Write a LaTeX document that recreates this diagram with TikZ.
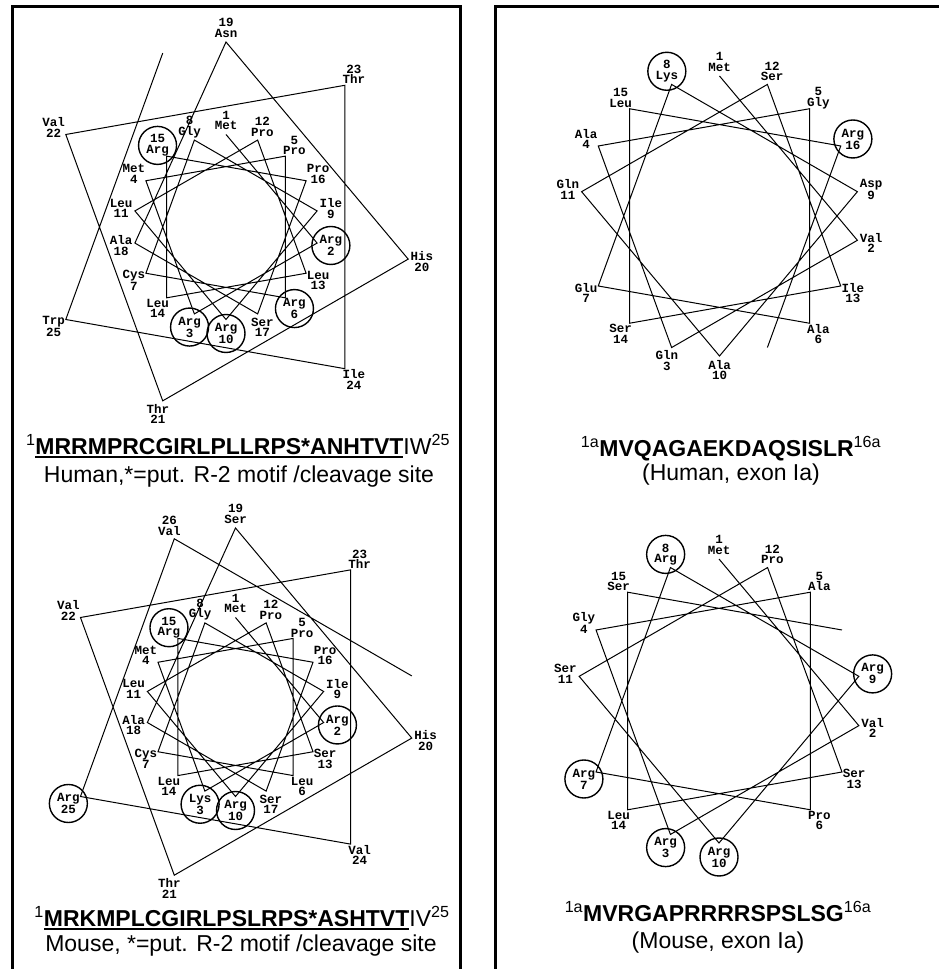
\documentclass[tikz,border=0pt]{standalone}
\usepackage{fontspec}
\setmainfont{Liberation Sans}
\newfontfamily\resfont{Liberation Mono}

\tikzset{
  wheelline/.style={line width=1pt, line join=miter},
  reslabel/.style={font=\resfont\bfseries\fontsize{12.5}{10.5}\selectfont, align=center, inner sep=0pt},
  argring/.style={line width=1.4pt},
  panel/.style={line width=3pt},
  seqline/.style={font=\fontsize{23}{27}\selectfont, anchor=base, inner sep=0pt},
}

% bold text with a heavy underline
\newcommand{\ulbold}[1]{\setbox0\hbox{\bfseries #1}\rlap{\rule[-3pt]{\wd0}{1.8pt}}\box0}

% #1 prefix, #2 centre, #3 inner radius, #4 last point of the trace,
% #5 residues (number/name), #6 circled residues
\newcommand{\drawwheel}[6]{%
  \coordinate (#1c) at (#2);
  \foreach \k in {1,...,#4}{
    \pgfmathsetmacro\wang{90-(\k-1)*100}
    \pgfmathsetmacro\wrad{\k<19 ? #3 : 2*#3}
    \path (#1c) ++(\wang:\wrad) coordinate (#1\k);
  }
  \draw[wheelline] (#11) \foreach \k in {2,...,#4}{ -- (#1\k)};
  \foreach \k/\res in {#5}{
    \pgfmathtruncatemacro\wa{mod(90-(\k-1)*100+2880,360)}
    \pgfmathsetmacro\wlab{(\k<19 ? #3 : 2*#3)+14}
    \ifnum\wa>40 \ifnum\wa<140 \def\wtxt{\k\\\res}\else\def\wtxt{\res\\\k}\fi
    \else\def\wtxt{\res\\\k}\fi
    \path (#1c) ++(\wa:\wlab) node[reslabel] (#1n\k) {\wtxt};
  }
  \foreach \k in {#6}{\draw[argring] (#1n\k) circle[radius=19];}
}

\begin{document}
\begin{tikzpicture}[x=1pt,y=1pt]
  \useasboundingbox (0,0) rectangle (939,969);
  \clip (0,0) rectangle (939,969);

  % frames
  \draw[panel] (12,-10) |- (460,962) -- (460,-10);
  \draw[panel] (495,-10) |- (950,962);

  % human, left
  \drawwheel{hl}{226,742}{92.5}{26}{1/Met,2/Arg,3/Arg,4/Met,5/Pro,6/Arg,7/Cys,8/Gly,9/Ile,10/Arg,11/Leu,12/Pro,13/Leu,14/Leu,15/Arg,16/Pro,17/Ser,18/Ala,19/Asn,20/His,21/Thr,22/Val,23/Thr,24/Ile,25/Trp}{2,3,6,10,15}
  % mouse, left
  \drawwheel{ml}{235.5,262}{89.5}{27}{1/Met,2/Arg,3/Lys,4/Met,5/Pro,6/Leu,7/Cys,8/Gly,9/Ile,10/Arg,11/Leu,12/Pro,13/Ser,14/Leu,15/Arg,16/Pro,17/Ser,18/Ala,19/Ser,20/His,21/Thr,22/Val,23/Thr,24/Val,25/Arg,26/Val}{2,3,10,15,25}
  % human, exon Ia
  \drawwheel{hr}{719.5,753}{140}{17}{1/Met,2/Val,3/Gln,4/Ala,5/Gly,6/Ala,7/Glu,8/Lys,9/Asp,10/Ala,11/Gln,12/Ser,13/Ile,14/Ser,15/Leu,16/Arg}{8,16}
  % mouse, exon Ia
  \drawwheel{mr}{719,268}{142}{16}{1/Met,2/Val,3/Arg,4/Gly,5/Ala,6/Pro,7/Arg,8/Arg,9/Arg,10/Arg,11/Ser,12/Pro,13/Ser,14/Leu,15/Ser}{3,7,8,9,10}

  % captions
  \node[seqline] (hlseq) at (238,514) {\textsuperscript{1}\ulbold{MRRMPRCGIRLPLLRPS*ANHTVT}IW\textsuperscript{25}};
  \node[seqline] (hlnote) at (239,486) {Human,*=put. R-2 motif /cleavage site};
  \node[seqline] (hrseq) at (731,512) {\textsuperscript{1a}\textbf{MVQAGAEKDAQSISLR}\textsuperscript{16a}};
  \node[seqline] (hrnote) at (731,488) {(Human, exon Ia)};
  \node[seqline] (mlseq) at (242,42) {\textsuperscript{1}\ulbold{MRKMPLCGIRLPSLRPS*ASHTVT}IV\textsuperscript{25}};
  \node[seqline] (mlnote) at (241,17) {Mouse, *=put. R-2 motif /cleavage site};
  \node[seqline] (mrseq) at (718,47) {\textsuperscript{1a}\textbf{MVRGAPRRRRSPSLSG}\textsuperscript{16a}};
  \node[seqline] (mrnote) at (718,20) {(Mouse, exon Ia)};
\end{tikzpicture}
\end{document}
